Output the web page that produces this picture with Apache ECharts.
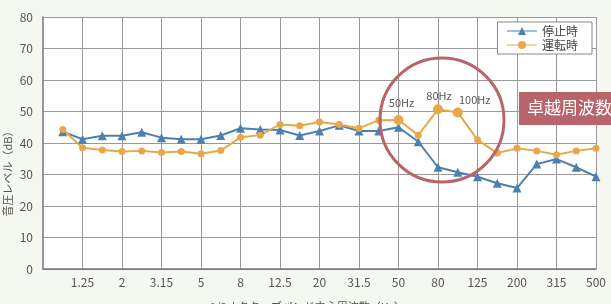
<!DOCTYPE html>
<html>
<head>
<meta charset="utf-8">
<script src="https://cdn.jsdelivr.net/npm/echarts@6/dist/echarts.min.js"></script>
<style>
html, body { margin: 0; padding: 0; background: #f5f7f1; }
#chart { width: 611px; height: 304px; }
</style>
</head>
<body>
<div id="chart"></div>
<script>
// 1/3 octave band centre frequencies (first slot is empty)
var bands = ['0.8', '1', '1.25', '1.6', '2', '2.5', '3.15', '4', '5', '6.3', '8', '10', '12.5', '16',
  '20', '25', '31.5', '40', '50', '63', '80', '100', '125', '160', '200', '250', '315', '400', '500'];

var stopped = [null, 43.6, 41.2, 42.3, 42.3, 43.4, 41.7, 41.2, 41.2, 42.4, 44.7, 44.3, 44.1, 42.4,
  43.8, 45.6, 43.8, 43.8, 45.0, 40.4, 32.3, 30.7, 29.3, 27.2, 25.7, 33.3, 34.9, 32.3, 29.3];

var running = [null, 44.3, 38.5, 37.8, 37.3, 37.5, 37.0, 37.3, 36.6, 37.6, 41.8, 42.5, 45.9, 45.5,
  46.7, 45.9, 44.7, 47.2, 47.3, 42.5, 50.7, 49.7, 41.0, 36.8, 38.3, 37.5, 36.3, 37.5, 38.3];

// dominant frequencies called out on the chart
var peaks = { '50': '50Hz', '80': '80Hz', '100': '100Hz' };
var peakOffsets = { '50': [3, -2], '80': [1, 2], '100': [17, 3] };

var seriesNames = ['停止時', '運転時'];

var font = '"Noto Sans CJK JP", "Noto Sans", sans-serif';
var myChart = echarts.init(document.getElementById('chart'));

var showTick = function (i) { return i > 0 && i % 2 === 0; };

var runningData = running.map(function (v, i) {
  var b = bands[i];
  if (peaks[b]) {
    return {
      value: v,
      symbolSize: 10,
      label: {
        show: true, position: 'top', formatter: peaks[b], offset: peakOffsets[b],
        color: '#555', fontSize: 11, fontFamily: font
      }
    };
  }
  return v;
});

var option = {
  backgroundColor: '#f5f7f1',
  animation: false,
  grid: {
    left: 43, right: 15, top: 17, bottom: 35,
    outerBoundsMode: 'none', containLabel: false,
    show: true, backgroundColor: '#fff', borderWidth: 0
  },
  legend: {
    orient: 'vertical',
    right: 19, top: 22,
    backgroundColor: '#fff',
    borderColor: '#888', borderWidth: 1, borderRadius: 0,
    padding: [3, 14, 3, 9],
    itemGap: 2,
    itemWidth: 30, itemHeight: 10,
    lineStyle: { width: 1 },
    textStyle: { fontSize: 12, color: '#444', fontFamily: font },
    data: seriesNames
  },
  xAxis: {
    type: 'category',
    data: bands,
    boundaryGap: false,
    name: '1/3オクターブバンド中心周波数（Hz）',
    nameLocation: 'middle',
    nameGap: 32,
    nameTextStyle: { fontSize: 11, color: '#555', fontFamily: font, padding: [0, 24, 0, 0] },
    axisLine: { lineStyle: { color: '#777', width: 1.5 } },
    axisTick: { show: false },
    axisLabel: { interval: function (i) { return showTick(i); }, color: '#555', fontSize: 12, margin: 7, fontFamily: font },
    splitLine: { show: true, interval: function (i) { return showTick(i); }, lineStyle: { color: '#999', width: 1 } }
  },
  yAxis: {
    type: 'value',
    min: 0, max: 80, interval: 10,
    axisLine: { show: true, lineStyle: { color: '#777', width: 1.5 } },
    axisTick: { show: false },
    axisLabel: { color: '#555', fontSize: 12, margin: 10, fontFamily: font },
    splitLine: { lineStyle: { color: '#999', width: 1 } }
  },
  series: [
    {
      name: seriesNames[0], type: 'line', data: stopped,
      symbol: 'triangle', symbolSize: 9,
      itemStyle: { color: '#4b80b1' },
      lineStyle: { width: 2, color: '#4b80b1' }
    },
    {
      name: seriesNames[1], type: 'line', data: runningData,
      symbol: 'circle', symbolSize: 7,
      itemStyle: { color: '#e8a84a' },
      lineStyle: { width: 2, color: '#e8a84a' }
    }
  ]
};

myChart.setOption(option);

// ring around the dominant band and the callout tag
var c = myChart.convertToPixel({ gridIndex: 0 }, ['80', 47.3]);
myChart.setOption({
  graphic: [
    {
      type: 'circle', z: 100,
      shape: { cx: c[0] + 4, cy: c[1], r: 62 },
      style: { fill: 'none', stroke: '#b9636a', lineWidth: 3 }
    },
    {
      type: 'rect', z: 100,
      shape: { x: 519, y: 92, width: 100, height: 33 },
      style: { fill: '#b9636a' }
    },
    {
      type: 'text', z: 101, x: 527, y: 108,
      style: { text: '卓越周波数', fill: '#fff', fontSize: 17, fontFamily: font, verticalAlign: 'middle' }
    },
    {
      type: 'text', z: 101, x: 8, y: 171, rotation: Math.PI / 2,
      style: { text: '音圧レベル（dB）', fill: '#555', fontSize: 11, fontFamily: font, align: 'center', verticalAlign: 'middle' }
    }
  ]
});
</script>
</body>
</html>
